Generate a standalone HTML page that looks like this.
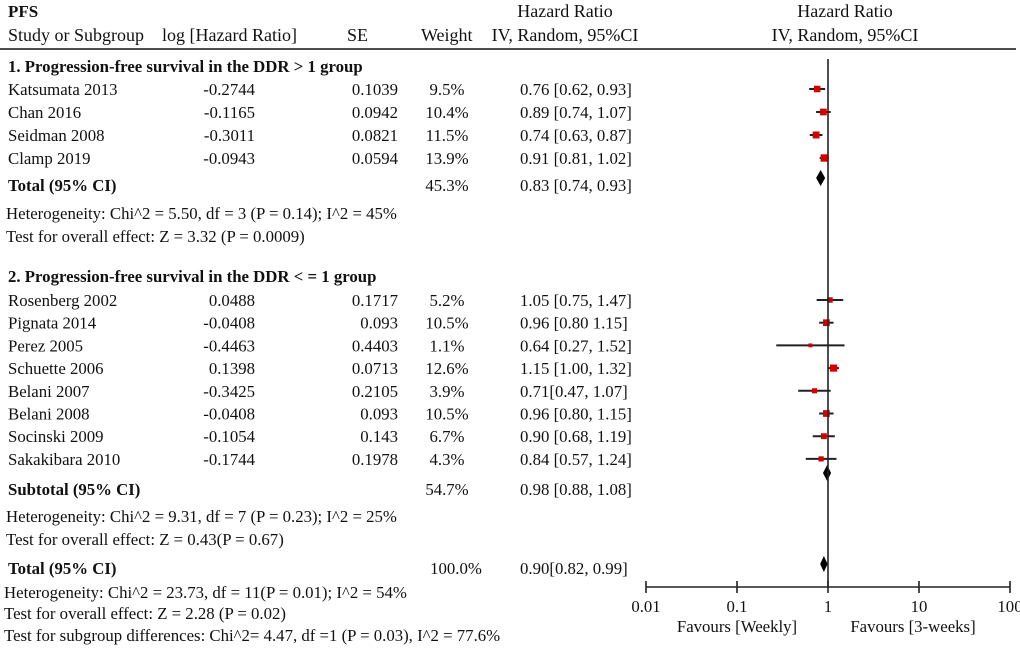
<!DOCTYPE html>
<html><head><meta charset="utf-8"><style>
html,body{margin:0;padding:0;background:#fff;}
svg{display:block;font-family:"Liberation Serif",serif;font-size:16.8px;fill:#111;}
.b{font-weight:bold;}
.hd{font-size:18px;}
</style></head><body>
<svg id="fp" width="1020" height="648" viewBox="0 0 1020 648">
<g>
<text x="8" y="17" class="b" font-size="17">PFS</text>
<text x="8" y="41" class="hd">Study or Subgroup</text>
<text x="162" y="41" class="hd">log [Hazard Ratio]</text>
<text x="347" y="41" class="hd">SE</text>
<text x="421" y="41" class="hd">Weight</text>
<text x="565" y="17" text-anchor="middle" class="hd">Hazard Ratio</text>
<text x="565" y="41" text-anchor="middle" class="hd">IV, Random, 95%CI</text>
<text x="845" y="17" text-anchor="middle" class="hd">Hazard Ratio</text>
<text x="845" y="41" text-anchor="middle" class="hd">IV, Random, 95%CI</text>
<line x1="0" y1="49" x2="1016" y2="49" stroke="#111" stroke-width="1.6"/>
</g>
<g id="tbl"></g>
<g id="plot"></g>
</svg>
<script>
const studies1 = ["Katsumata 2013","Chan 2016","Seidman 2008","Clamp 2019"];
const logHR1 = ["-0.2744","-0.1165","-0.3011","-0.0943"];
const se1 = ["0.1039","0.0942","0.0821","0.0594"];
const wt1 = [9.5,10.4,11.5,13.9];
const hrText1 = ["0.76 [0.62, 0.93]","0.89 [0.74, 1.07]","0.74 [0.63, 0.87]","0.91 [0.81, 1.02]"];
const hr1 = [0.76,0.89,0.74,0.91];
const lo1 = [0.62,0.74,0.63,0.81];
const hi1 = [0.93,1.07,0.87,1.02];

const studies2 = ["Rosenberg 2002","Pignata 2014","Perez 2005","Schuette 2006","Belani 2007","Belani 2008","Socinski 2009","Sakakibara 2010"];
const logHR2 = ["0.0488","-0.0408","-0.4463","0.1398","-0.3425","-0.0408","-0.1054","-0.1744"];
const se2 = ["0.1717","0.093","0.4403","0.0713","0.2105","0.093","0.143","0.1978"];
const wt2 = [5.2,10.5,1.1,12.6,3.9,10.5,6.7,4.3];
const hrText2 = ["1.05 [0.75, 1.47]","0.96 [0.80 1.15]","0.64 [0.27, 1.52]","1.15 [1.00, 1.32]","0.71[0.47, 1.07]","0.96 [0.80, 1.15]","0.90 [0.68, 1.19]","0.84 [0.57, 1.24]"];
const hr2 = [1.05,0.96,0.64,1.15,0.71,0.96,0.90,0.84];
const lo2 = [0.75,0.80,0.27,1.00,0.47,0.80,0.68,0.57];
const hi2 = [1.47,1.15,1.52,1.32,1.07,1.15,1.19,1.24];

const pooledHR = [0.83,0.98,0.90];
const pooledLo = [0.74,0.88,0.82];
const pooledHi = [0.93,1.08,0.99];
const tickVals = [0.01,0.1,1,10,100];
const tickLabels = ["0.01","0.1","1","10","100"];

const NS="http://www.w3.org/2000/svg";
const X0=646, X1=1010;
function xs(v){return X0+(Math.log10(v)+2)/4*(X1-X0);}
const tbl=document.getElementById('tbl'), plot=document.getElementById('plot');
function mk(tag,attrs,parent){const e=document.createElementNS(NS,tag);for(const k in attrs)e.setAttribute(k,attrs[k]);parent.appendChild(e);return e;}
function txt(s,x,y,opts){const e=mk('text',{x:x,y:y},tbl);if(opts&&opts.anchor)e.setAttribute('text-anchor',opts.anchor);if(opts&&opts.bold)e.setAttribute('class','b');e.textContent=s;return e;}

let t;
t=txt("1. Progression-free survival in the DDR > 1 group",8,72,{bold:true});



function studyRows(names,lh,se,wt,ht,hr,lo,hi,y0,step,grp){
  names.forEach((n,i)=>{
    const yb=y0+i*step, ym=yb-6;
    txt(n,8,yb);
    txt(lh[i],255,yb,{anchor:'end'});
    txt(se[i],398,yb,{anchor:'end'});
    txt(wt[i].toFixed(1)+'%',447,yb,{anchor:'middle'});
    txt(ht[i],520,yb);
    const l=mk('line',{x1:xs(lo[i]),x2:xs(hi[i]),y1:ym,y2:ym,stroke:'#222','stroke-width':2},plot);
    
    
    const s=2.5+Math.sqrt(wt[i])*1.3;
    const r=mk('rect',{x:xs(hr[i])-s/2,y:ym-s/2,width:s,height:s,fill:'#d40000'},plot);
    
    
  });
}
studyRows(studies1,logHR1,se1,wt1,hrText1,hr1,lo1,hi1,95,23,'g1');
txt("Total (95% CI)",8,191,{bold:true});
txt("45.3%",447,191,{anchor:'middle'});
txt("0.83 [0.74, 0.93]",520,191);
txt("Heterogeneity: Chi^2 = 5.50, df = 3 (P = 0.14); I^2 = 45%",6,219);
txt("Test for overall effect: Z = 3.32 (P = 0.0009)",6,242);
t=txt("2. Progression-free survival in the DDR < = 1 group",8,282,{bold:true});


studyRows(studies2,logHR2,se2,wt2,hrText2,hr2,lo2,hi2,306,22.7,'g2');
txt("Subtotal (95% CI)",8,495,{bold:true});
txt("54.7%",447,495,{anchor:'middle'});
txt("0.98 [0.88, 1.08]",520,495);
txt("Heterogeneity: Chi^2 = 9.31, df = 7 (P = 0.23); I^2 = 25%",6,522);
txt("Test for overall effect: Z = 0.43(P = 0.67)",6,545);
txt("Total (95% CI)",8,574,{bold:true});
txt("100.0%",456,574,{anchor:'middle'});
txt("0.90[0.82, 0.99]",520,574);
txt("Heterogeneity: Chi^2 = 23.73, df = 11(P = 0.01); I^2 = 54%",4,598);
txt("Test for overall effect: Z = 2.28 (P = 0.02)",4,619);
txt("Test for subgroup differences: Chi^2= 4.47, df =1 (P = 0.03), I^2 = 77.6%",4,641);

const diamondY=[178,473,564];
pooledHR.forEach((v,i)=>{
  const y=diamondY[i], h=8;
  const p=mk('polygon',{points:`${xs(pooledLo[i])},${y} ${xs(v)},${y-h} ${xs(pooledHi[i])},${y} ${xs(v)},${y+h}`,fill:'#000'},plot);
  
  
});
const nl=mk('line',{x1:xs(1),x2:xs(1),y1:59,y2:587,stroke:'#222','stroke-width':1.6},plot);


const ax=mk('line',{x1:X0,x2:X1,y1:587,y2:587,stroke:'#222','stroke-width':1.6},plot);


tickVals.forEach((v,i)=>{
  const tk=mk('line',{x1:xs(v),x2:xs(v),y1:581,y2:593,stroke:'#222','stroke-width':1.6},plot);
  
  
  const lb=mk('text',{x:xs(v),y:612,'text-anchor':'middle'},plot);
  lb.textContent=tickLabels[i];
  
  
});
const f1=mk('text',{x:737,y:632,'text-anchor':'middle'},plot);f1.textContent="Favours [Weekly]";


const f2=mk('text',{x:913,y:632,'text-anchor':'middle'},plot);f2.textContent="Favours [3-weeks]";


</script>
</body></html>
